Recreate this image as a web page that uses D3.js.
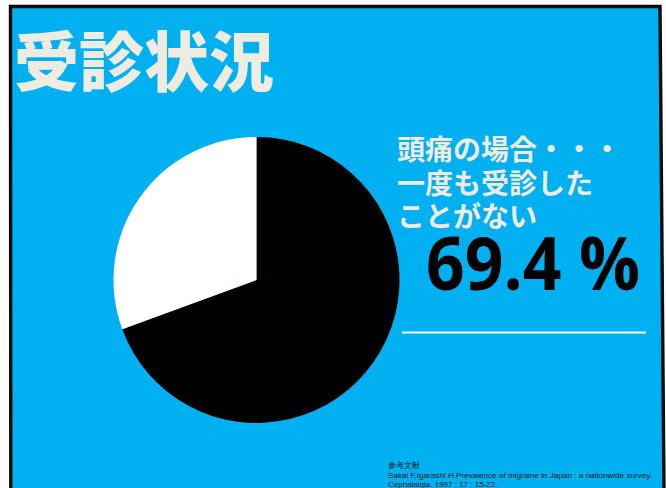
<!DOCTYPE html>
<html lang="ja">
<head>
<meta charset="utf-8">
<script src="https://cdn.jsdelivr.net/npm/d3@7"></script>
<style>
  html, body { margin: 0; padding: 0; background: #ffffff; }
  svg { display: block; }
</style>
</head>
<body>
<svg id="chart" width="666" height="488"></svg>
<script>
// Survey result: share of people with headache who have never consulted a doctor
const categories = ["一度も受診したことがない", "受診したことがある"];
const values = [69.4, 30.6];
const sliceColors = ["#000000", "#ffffff"];

const titleText = "受診状況";
const calloutLines = ["頭痛の場合・・・", "一度も受診した", "ことがない"];
const sourceLines = [
  "参考文献",
  "Sakai F,Igarashi H.Prevalence of migraine in Japan : a nationwide survey.",
  "Cephalalgia. 1997 : 17 : 15-22."
];

const svg = d3.select("#chart");

// slide panel with its dark frame
const frame = d3.path();
frame.moveTo(10.5, 6.5);
frame.lineTo(660, 6.5);
frame.lineTo(664, 492);
frame.lineTo(10.8, 492);
frame.closePath();
svg.append("path")
  .attr("d", frame.toString())
  .attr("fill", "#00B0F0")
  .attr("stroke", "#0a0a0a")
  .attr("stroke-width", 3.4);

// title
svg.append("text")
  .attr("x", 14)
  .attr("y", 86)
  .attr("font-family", "'Noto Sans CJK JP'")
  .attr("font-weight", 900)
  .attr("font-size", 65)
  .attr("fill", "#EEECE1")
  .text(titleText);

// pie
const cx = 256.5, cy = 280, r = 143;
const pie = d3.pie().sort(null).value(d => d.value);
const arc = d3.arc().innerRadius(0).outerRadius(r);
const data = categories.map((c, i) => ({ name: c, value: values[i], color: sliceColors[i] }));

svg.append("g")
  .attr("transform", `translate(${cx},${cy})`)
  .selectAll("path")
  .data(pie(data))
  .join("path")
  .attr("d", arc)
  .attr("fill", d => d.data.color);

// callout text, one block with a line per tspan
svg.append("text")
  .attr("font-family", "'Noto Sans CJK JP'")
  .attr("font-weight", 700)
  .attr("font-size", 28)
  .attr("fill", "#EEECE1")
  .selectAll("tspan")
  .data(calloutLines)
  .join("tspan")
  .attr("x", 397)
  .attr("y", (d, i) => 160 + i * 33.5)
  .text(d => d);

// headline value
svg.append("text")
  .attr("x", 426)
  .attr("y", 290)
  .attr("font-family", "'Open Sans'")
  .attr("font-weight", 700)
  .attr("font-size", 73)
  .attr("fill", "#000000")
  .attr("textLength", 214)
  .attr("lengthAdjust", "spacingAndGlyphs")
  .text(`${values[0]} %`);

// divider
svg.append("line")
  .attr("x1", 402).attr("x2", 646)
  .attr("y1", 332.5).attr("y2", 332.5)
  .attr("stroke", "#ffffff")
  .attr("stroke-width", 2);

// reference
svg.append("g")
  .selectAll("text")
  .data(sourceLines)
  .join("text")
  .attr("x", 388)
  .attr("y", (d, i) => 468 + i * 9.5)
  .attr("font-family", "'Liberation Sans', Arial, sans-serif")
  .attr("font-size", 8)
  .attr("fill", "#1a1a1a")
  .attr("textLength", (d, i) => i === 1 ? 264 : null)
  .attr("lengthAdjust", "spacingAndGlyphs")
  .text(d => d);
</script>
</body>
</html>
